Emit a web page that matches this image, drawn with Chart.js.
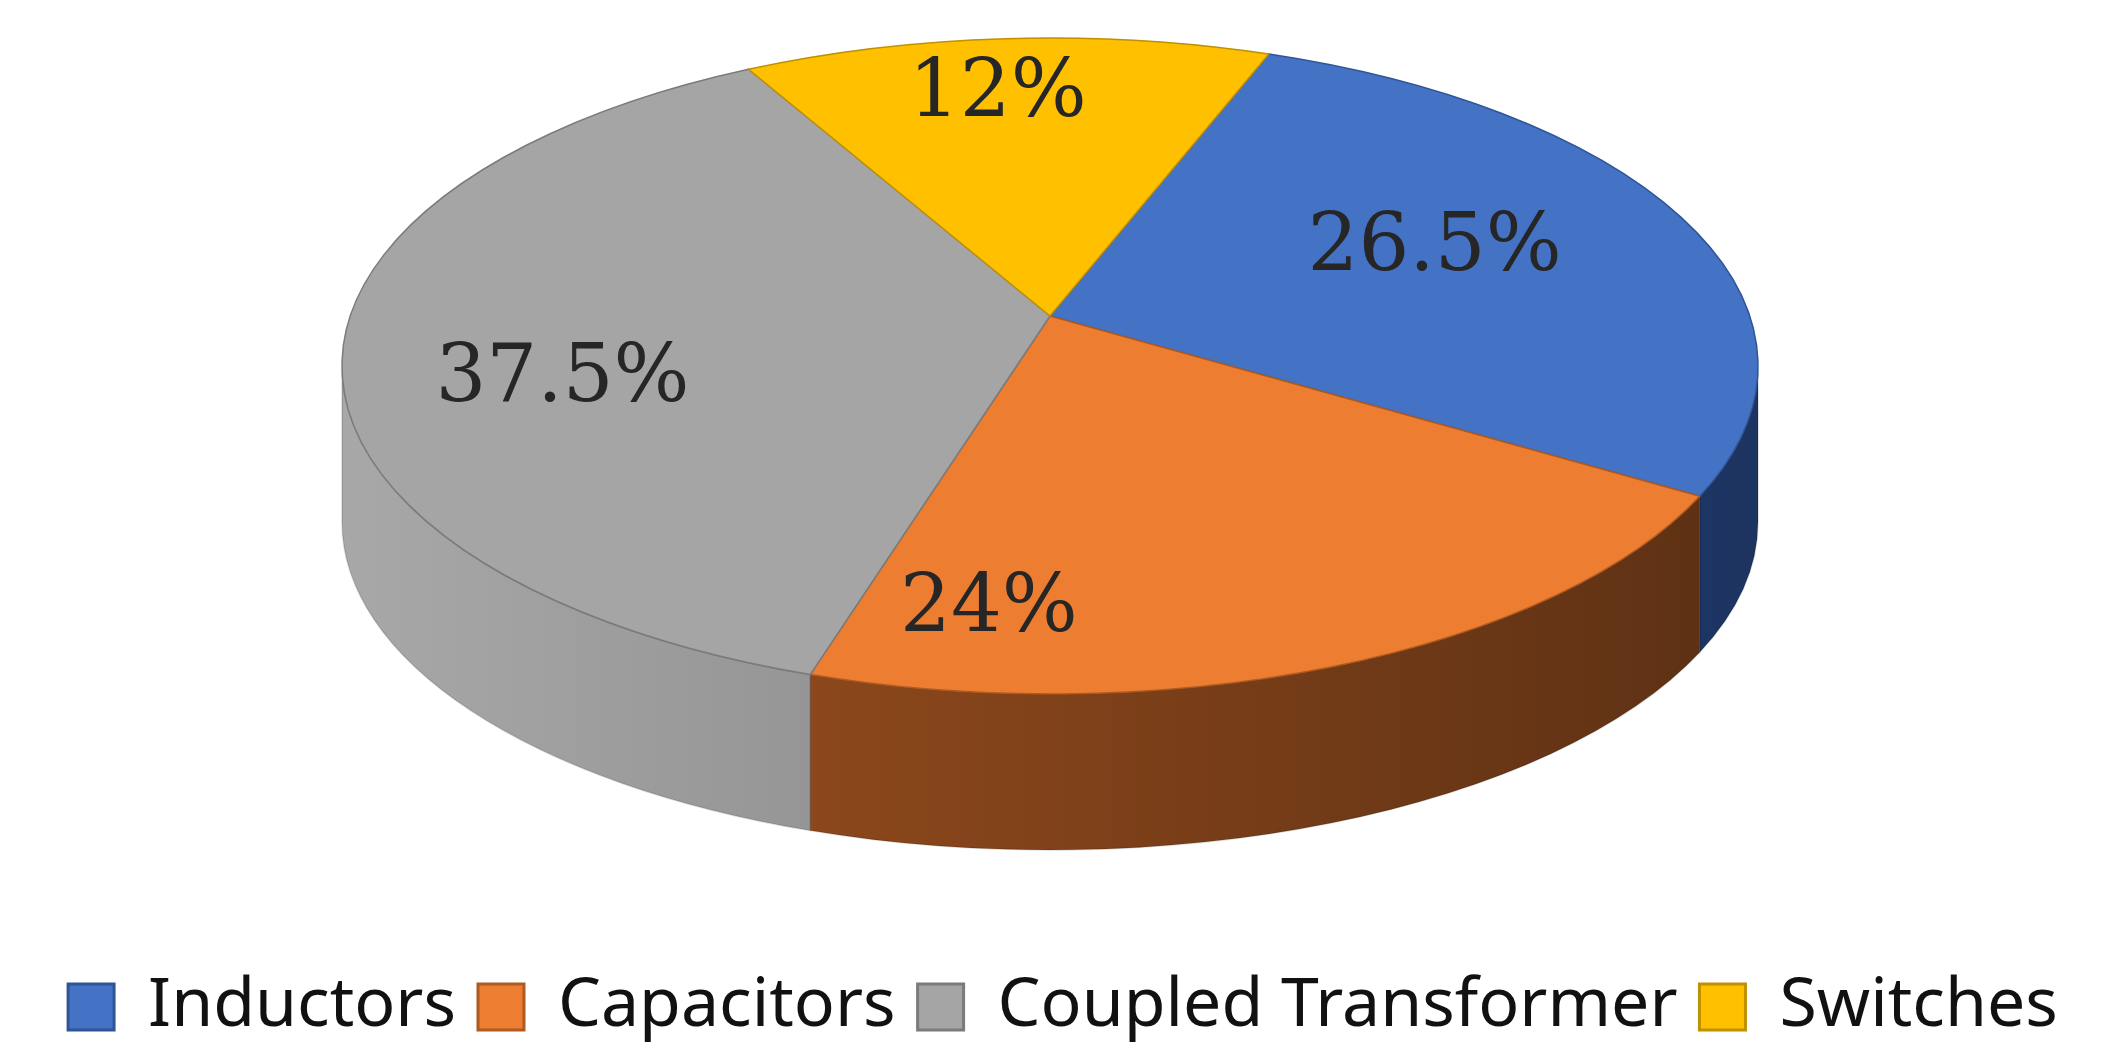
<!DOCTYPE html>
<html><head><meta charset="utf-8">
<script src="https://cdn.jsdelivr.net/npm/chart.js@4"></script>
<style>html,body{margin:0;padding:0;background:#fff}#w{width:2126px;height:1061px}</style>
</head><body><div id="w"><canvas id="c"></canvas></div>
<script>
const categories = ["Inductors","Capacitors","Coupled Transformer","Switches"];
const values = [26.5, 24, 37.5, 12];
const labels = ["26.5%","24%","37.5%","12%"];
const topColors = ["#4472C4","#ED7D31","#A5A5A5","#FFC000"];
const edgeColors = ["#2F5597","#AE5A21","#7B7B7B","#BF9000"];
const sideLight = ["#2d4f8f","#a4531f","#a8a8a8","#c49400"];
const sideDark = ["#1d3461","#5c3014","#707070","#8a6800"];
// label placement style: angle tweak (deg) and radial fraction
const labelTweak = [-9, 30, -1, -1.5];
const labelK = [0.65, 0.75, 0.69, 0.83];

const pie3d = {
  id:'pie3d',
  beforeDatasetsDraw(chart){
    const ctx = chart.ctx, meta = chart.getDatasetMeta(0);
    const cx = meta.data[0].x - 13, cy = 366, rx = 708, ry = 328, depth = 156, apexY = cy - 50;
    ctx.save();
    meta.data.forEach((arc,i)=>{
      const segs = [];
      for (const off of [0, 2*Math.PI, -2*Math.PI]) {
        const a0 = Math.max(arc.startAngle+off, 0), a1 = Math.min(arc.endAngle+off, Math.PI);
        if (a1 > a0) segs.push([a0,a1]);
      }
      segs.forEach(([a0,a1])=>{
        const g = ctx.createLinearGradient(cx-rx,0,cx+rx,0);
        g.addColorStop(0, sideLight[i]); g.addColorStop(1, sideDark[i]);
        ctx.beginPath();
        ctx.ellipse(cx,cy,rx,ry,0,a0,a1,false);
        ctx.ellipse(cx,cy+depth,rx,ry,0,a1,a0,true);
        ctx.closePath();
        ctx.fillStyle = g; ctx.fill();
        ctx.strokeStyle = 'rgba(0,0,0,0.15)'; ctx.lineWidth=1.5; ctx.stroke();
      });
    });
    meta.data.forEach((arc,i)=>{
      ctx.beginPath();
      ctx.moveTo(cx,apexY);
      ctx.ellipse(cx,cy,rx,ry,0,arc.startAngle,arc.endAngle,false);
      ctx.closePath();
      ctx.fillStyle = topColors[i]; ctx.fill();
      ctx.strokeStyle = edgeColors[i]; ctx.lineWidth = 1.5; ctx.stroke();
    });
    ctx.fillStyle = '#262626';
    ctx.font = '80px "DejaVu Serif", "Liberation Serif", serif';
    ctx.textAlign='center'; ctx.textBaseline='middle';
    meta.data.forEach((arc,i)=>{
      const m = (arc.startAngle+arc.endAngle)/2 + labelTweak[i]*Math.PI/180;
      const k = labelK[i];
      ctx.fillText(labels[i], cx + rx*k*Math.cos(m), cy + ry*k*Math.sin(m));
    });
    ctx.restore();
    return false;
  }
};

new Chart(document.getElementById('c'), {
  type:'pie',
  data:{ labels:categories, datasets:[{ data:values, backgroundColor:topColors, borderColor:edgeColors, borderWidth:3 }]},
  options:{
    responsive:true, maintainAspectRatio:false, animation:false,
    rotation:18,
    layout:{padding:{top:20,bottom:10}},
    plugins:{
      tooltip:{enabled:false},
      legend:{ position:'bottom',
        labels:{ color:'#111', font:{size:68, family:'"Noto Sans", "DejaVu Sans", sans-serif'}, boxWidth:46, boxHeight:46, padding:22 } }
    }
  },
  plugins:[pie3d]
});
</script></body></html>
